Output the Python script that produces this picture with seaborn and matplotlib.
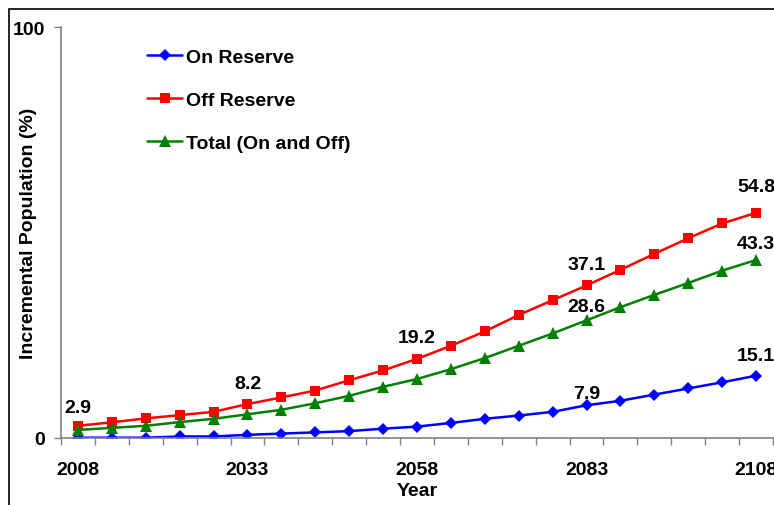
import numpy as np
import pandas as pd
import seaborn as sns
import matplotlib.pyplot as plt
from matplotlib.patches import Rectangle

years = list(range(2008, 2109, 5))
on_reserve = [0.0, 0.0, 0.0, 0.3, 0.3, 0.7, 1.0, 1.3, 1.6, 2.2, 2.7,
              3.6, 4.6, 5.4, 6.3, 7.9, 9.0, 10.5, 12.0, 13.5, 15.1]
off_reserve = [2.9, 3.75, 4.7, 5.5, 6.3, 8.2, 9.8, 11.5, 14.0, 16.4, 19.2,
               22.4, 25.9, 29.9, 33.5, 37.1, 40.9, 44.8, 48.6, 52.2, 54.8]
total = [1.9, 2.4, 2.9, 3.8, 4.6, 5.7, 6.8, 8.4, 10.2, 12.4, 14.3,
         16.7, 19.4, 22.4, 25.4, 28.6, 31.8, 34.8, 37.7, 40.7, 43.3]
label_years = [2008, 2033, 2058, 2083, 2108]

# (series, years to annotate, offset in px above the point)
annotations = [
    (off_reserve, [2008, 2033, 2058, 2083, 2108], [18, 21, 21, 21, 26]),
    (total, [2083, 2108], [14, 16]),
    (on_reserve, [2083, 2108], [12, 20]),
]

df = pd.DataFrame({"Year": years, "On Reserve": on_reserve,
                   "Off Reserve": off_reserve, "Total (On and Off)": total})

sns.set_style("white")
plt.rcParams['font.family'] = ['Liberation Sans', 'DejaVu Sans']
plt.rcParams['font.weight'] = 'bold'
plt.rcParams['text.color'] = 'black'
plt.rcParams['xtick.color'] = 'black'
plt.rcParams['ytick.color'] = 'black'
plt.rcParams['axes.labelcolor'] = 'black'

fs = 14

fig = plt.figure(figsize=(7.74, 5.06), dpi=100)
ax = fig.add_axes([61 / 774, 67.3 / 506, 712 / 774, 410.4 / 506])

styles = [("On Reserve", "#0000ff", "D", 6.5),
          ("Off Reserve", "#ff0000", "s", 7),
          ("Total (On and Off)", "#008000", "^", 8)]
for name, color, marker, ms in styles:
    sns.lineplot(data=df, x="Year", y=name, ax=ax, color=color, marker=marker,
                 markersize=ms, markeredgewidth=0, linewidth=1.8, label=name)

for series, yrs, offs in annotations:
    for yr, off in zip(yrs, offs):
        v = series[years.index(yr)]
        ax.annotate(f"{v:.1f}", (yr, v), xytext=(0, off * 0.72), textcoords="offset points",
                    ha="center", va="center", fontsize=fs, fontweight="bold")

ax.set_xlim(2005.5, 2110.5)
ax.set_ylim(0, 100)
ax.set_yticks([0, 100])
ax.set_xticks(label_years)
ax.set_xticks(np.arange(2005.5, 2111, 5), minor=True)
ax.tick_params(axis="x", which="major", length=0, pad=17, labelsize=fs)
ax.tick_params(axis="x", which="minor", length=5, color="#808080", width=1, bottom=True)
ax.tick_params(axis="y", length=5, color="#808080", width=1, pad=6.5, labelsize=fs, left=True)

for s in ["top", "right"]:
    ax.spines[s].set_visible(False)
for s in ["left", "bottom"]:
    ax.spines[s].set_color("#808080")
    ax.spines[s].set_linewidth(1.2)

ax.set_xlabel("Year", fontsize=fs, fontweight="bold", labelpad=3)
ax.set_ylabel("Incremental Population (%)", fontsize=fs, fontweight="bold")
ax.yaxis.set_label_coords(-0.034, 0.5)

ax.legend(loc="upper left", bbox_to_anchor=(86 / 712, 0.948), frameon=False,
          fontsize=fs, handlelength=1.8, handletextpad=0.2, labelspacing=1.29,
          borderpad=0, borderaxespad=0, numpoints=1)

fig.patches.append(Rectangle((9 / 774, -0.1), 1.2, 0.1 + (506 - 10) / 506,
                             transform=fig.transFigure, fill=False,
                             edgecolor="black", linewidth=1.2))

fig.savefig("out.png", dpi=100)
